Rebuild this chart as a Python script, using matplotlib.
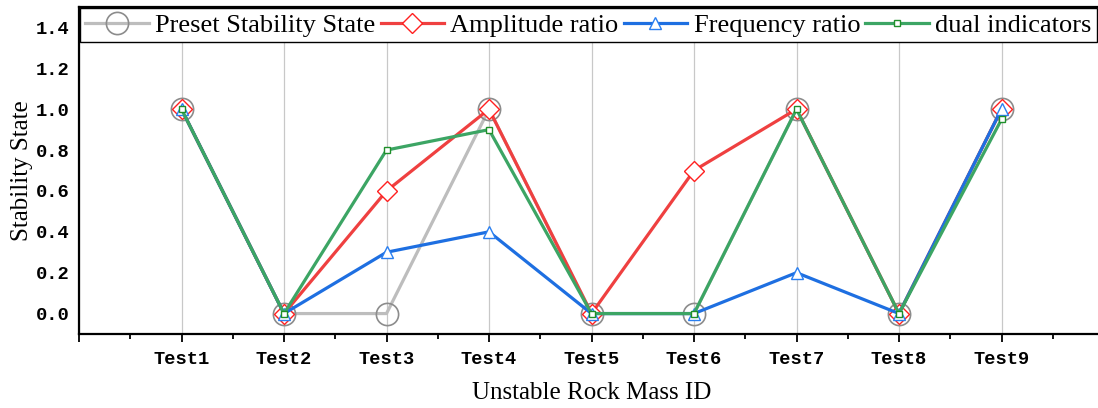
import matplotlib
matplotlib.use("Agg")
import matplotlib.pyplot as plt
from matplotlib.ticker import FixedLocator

categories = ["Test1", "Test2", "Test3", "Test4", "Test5", "Test6", "Test7", "Test8", "Test9"]
preset = [1.0, 0.0, 0.0, 1.0, 0.0, 0.0, 1.0, 0.0, 1.0]
amplitude = [1.0, 0.0, 0.6, 1.0, 0.0, 0.7, 1.0, 0.0, 1.0]
frequency = [1.0, 0.0, 0.3, 0.4, 0.0, 0.0, 0.2, 0.0, 1.0]
dual = [1.0, 0.0, 0.8, 0.9, 0.0, 0.0, 1.0, 0.0, 0.95]
yticks = [0.0, 0.2, 0.4, 0.6, 0.8, 1.0, 1.2, 1.4]

serif = "Liberation Serif"
mono = "Liberation Mono"

fig = plt.figure(figsize=(10.98, 4.08), dpi=100)
ax = fig.add_axes([79 / 1098, 1 - 334 / 408, 1025 / 1098, 327 / 408])

x = list(range(1, len(categories) + 1))
ax.plot(x, preset, color="#bdbdbd", lw=2.3, marker="o", ms=16, mfc="none",
        mec="#8c8c8c", mew=1.2, label="Preset Stability State", zorder=3)
ax.plot(x, amplitude, color="#ef4040", lw=2.3, marker="D", ms=10, mfc="white",
        mec="#ff2020", mew=1.0, label="Amplitude ratio", zorder=4)
ax.plot(x, frequency, color="#1e6fe1", lw=2.3, marker="^", ms=9, mfc="white",
        mec="#2a7ff0", mew=1.0, label="Frequency ratio", zorder=5)
ax.plot(x, dual, color="#3ca564", lw=2.3, marker="s", ms=4.5, mfc="white",
        mec="#1f8f2a", mew=1.0, label="dual indicators", zorder=6)

ax.set_xlim(0, 10)
ax.set_ylim(-0.1, 1.5)

ax.xaxis.set_major_locator(FixedLocator(list(range(0, 10))))
ax.set_xticklabels([""] + categories, fontfamily=mono, fontweight="bold", fontsize=13.5)
ax.xaxis.set_minor_locator(FixedLocator([i + 0.5 for i in range(0, 10)]))
ax.set_yticks(yticks)
ax.set_yticklabels([f"{v:.1f}" for v in yticks], fontfamily=mono, fontweight="bold", fontsize=13.5)

ax.tick_params(axis="x", which="major", length=6, width=1.3, direction="out", pad=6, color="black")
ax.tick_params(axis="x", which="minor", length=3.5, width=1.3, direction="out", color="black")
ax.tick_params(axis="y", which="both", length=0, pad=7)

ax.grid(axis="x", which="major", color="#c8c8c8", lw=0.9)
ax.set_axisbelow(True)

for s in ["left", "bottom", "top"]:
    ax.spines[s].set_linewidth(1.6)
ax.spines["right"].set_visible(False)

ax.set_xlabel("Unstable Rock Mass ID", fontfamily=serif, fontsize=18, labelpad=10)
ax.set_ylabel("Stability State", fontfamily=serif, fontsize=18, labelpad=2)

leg = fig.legend(loc="upper left",
                 bbox_to_anchor=(80 / 1098, 1 - 47 / 408, (1097 - 80) / 1098, 39 / 408),
                 mode="expand", ncol=4, borderaxespad=0, frameon=True, fancybox=False,
                 edgecolor="black", framealpha=1, borderpad=0.2, handlelength=2.4,
                 handletextpad=0.25, columnspacing=0.3,
                 prop={"family": serif, "size": 19})
leg.get_frame().set_linewidth(1.0)

fig.savefig("out.png", dpi=100)
